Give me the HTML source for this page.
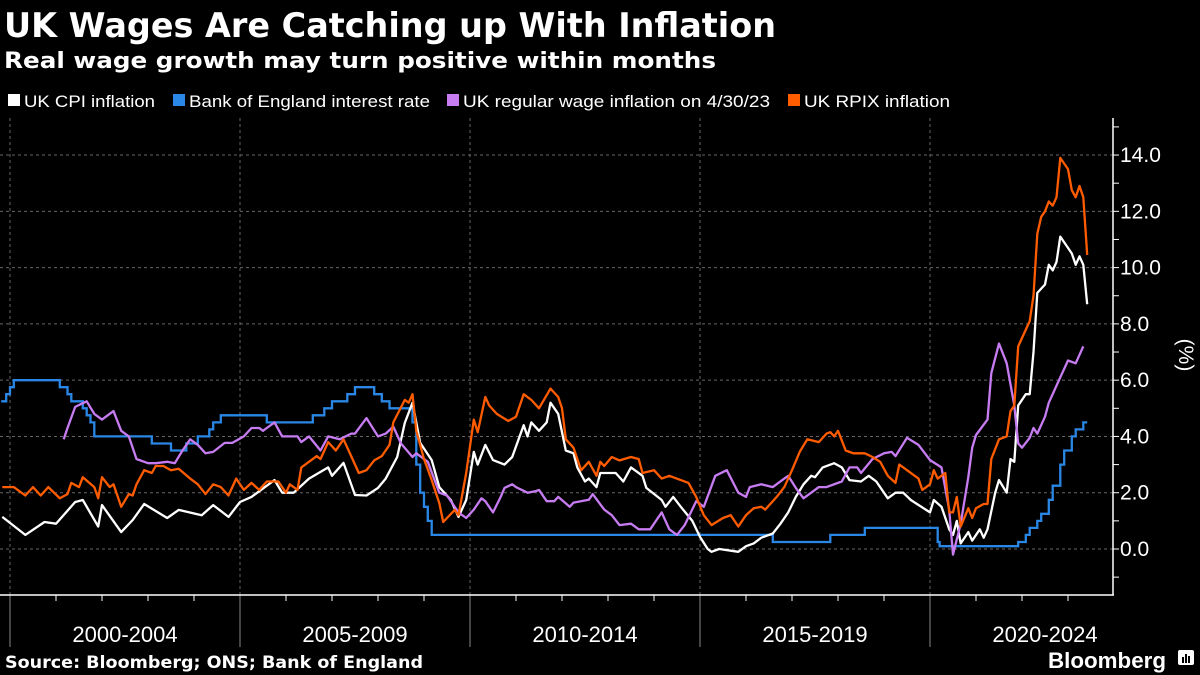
<!DOCTYPE html>
<html><head><meta charset="utf-8"><style>
html,body{margin:0;padding:0;background:#000;}
svg{display:block;font-family:"Liberation Sans",sans-serif;}
</style></head><body>
<svg id="chart" width="1200" height="675" viewBox="0 0 1200 675">
<rect width="1200" height="675" fill="#000"/>
<text x="4" y="37" fill="#fff" font-size="34" font-weight="bold" textLength="772" lengthAdjust="spacingAndGlyphs" style="font-family:'DejaVu Sans',sans-serif">UK Wages Are Catching up With Inflation</text>
<text x="4" y="68" fill="#fff" font-size="22" font-weight="bold" textLength="712" lengthAdjust="spacingAndGlyphs" style="font-family:'DejaVu Sans',sans-serif">Real wage growth may turn positive within months</text>
<g>
<g><rect x="8" y="94" width="12" height="12" fill="#fff"/><text x="24" y="107" fill="#fff" font-size="17" textLength="131" lengthAdjust="spacingAndGlyphs">UK CPI inflation</text></g>
<g><rect x="173" y="94" width="12" height="12" fill="#2a87e6"/><text x="189" y="107" fill="#fff" font-size="17" textLength="241" lengthAdjust="spacingAndGlyphs">Bank of England interest rate</text></g>
<g><rect x="447" y="94" width="12" height="12" fill="#c77cf2"/><text x="463" y="107" fill="#fff" font-size="17" textLength="307" lengthAdjust="spacingAndGlyphs">UK regular wage inflation on 4/30/23</text></g>
<g><rect x="788" y="94" width="12" height="12" fill="#ff5c00"/><text x="804" y="107" fill="#fff" font-size="17" textLength="146" lengthAdjust="spacingAndGlyphs">UK RPIX inflation</text></g>
</g>
<g id="grid"></g>
<g id="axes"></g>
<g id="series"></g>
<text x="5" y="668" fill="#fff" font-size="17" font-weight="bold" textLength="418" lengthAdjust="spacingAndGlyphs" style="font-family:'DejaVu Sans',sans-serif">Source: Bloomberg; ONS; Bank of England</text>
<text x="1048" y="668" fill="#fff" font-size="22" font-weight="bold" textLength="118" lengthAdjust="spacingAndGlyphs">Bloomberg</text>
<g><rect x="1178" y="650" width="16" height="15" rx="2" fill="#fff"/><rect x="1182" y="657" width="2" height="6" fill="#000"/><rect x="1185" y="654" width="2" height="9" fill="#000"/><rect x="1188" y="656" width="2" height="7" fill="#000"/></g>
</svg>
<script>
// months since Jan 2000
const cpiMonths=[-2,4,9,12,17,19,23,24,29,32,35,41,44,50,53,57,60,63,69,71,74,78,83,84,87,90,93,96,98,101,103,105,107,110,112,115,117,119,121,122,124,126,129,131,134,135,136,138,140,141,143,145,147,148,150,151,153,154,158,160,162,165,166,170,171,173,175,178,180,182,183,185,190,192,194,196,199,201,203,205,207,209,210,212,215,217,219,222,224,226,229,231,233,235,240,241,243,245,246,247,248,250,251,253,254,255,257,258,260,261,262,263,265,266,267,268,270,271,272,273,274,276,277,278,279,280,281];
const cpiValues=[1.14,0.5,0.96,0.9,1.67,1.74,0.8,1.56,0.6,1.03,1.6,1.1,1.39,1.2,1.56,1.14,1.67,1.85,2.45,2.0,2.0,2.5,2.9,2.6,3.06,1.92,1.9,2.17,2.5,3.27,4.48,5.2,3.77,3.16,2.2,1.74,1.14,1.74,3.45,3.0,3.7,3.16,3.0,3.27,4.4,4.0,4.5,4.2,4.5,5.2,4.8,3.5,3.4,2.9,2.4,2.5,2.2,2.7,2.7,2.4,2.9,2.6,2.17,1.74,1.5,1.85,1.5,1.0,0.43,0.0,-0.1,0.0,-0.1,0.1,0.2,0.4,0.55,0.9,1.3,1.85,2.3,2.6,2.55,2.9,3.05,2.9,2.45,2.4,2.6,2.4,1.8,2.0,2.0,1.74,1.3,1.74,1.5,0.7,0.5,1.0,0.2,0.6,0.3,0.7,0.4,0.7,2.0,2.45,2.0,3.2,3.1,5.1,5.5,5.5,7.0,9.1,9.4,10.1,9.9,10.2,11.1,10.7,10.5,10.1,10.4,10.1,8.7];
const rpixMonths=[-2,1,4,6,8,10,13,15,16,18,19,22,23,24,26,27,29,31,32,33,35,37,38,40,42,44,47,49,51,53,55,57,59,61,63,65,67,70,72,73,75,76,78,80,81,83,85,87,89,91,93,95,97,99,100,103,104,105,106,108,110,112,113,116,117,119,121,122,124,125,127,130,132,134,136,138,141,143,144,145,147,149,151,153,154,155,157,159,162,164,165,168,170,172,175,177,179,181,183,186,188,190,192,194,196,197,200,202,204,206,208,211,213,214,215,216,218,220,223,225,227,229,231,232,234,237,238,240,241,242,244,245,246,247,248,250,251,252,254,255,256,258,260,261,262,263,266,267,268,269,270,271,272,273,274,276,277,278,279,280,281];
const rpixValues=[2.2,2.2,1.9,2.2,1.9,2.2,1.8,1.95,2.35,2.2,2.55,2.2,1.8,2.55,2.2,2.3,1.5,1.95,1.9,2.3,2.8,2.7,2.95,2.95,2.8,2.85,2.5,2.3,1.95,2.3,2.2,1.9,2.5,2.1,2.35,2.1,2.4,2.4,2.0,2.3,2.1,2.9,3.1,3.3,3.2,3.8,3.5,3.9,3.3,2.7,2.8,3.15,3.3,3.7,4.5,5.3,5.2,5.5,4.2,3.2,2.45,1.63,0.96,1.39,1.2,2.7,4.6,4.15,5.4,5.1,4.8,4.55,4.7,5.5,5.3,5.0,5.7,5.4,5.0,3.9,3.6,2.8,3.1,2.6,3.1,2.95,3.27,3.15,3.27,3.2,2.7,2.8,2.5,2.6,2.45,2.35,1.85,1.2,0.85,1.1,1.2,0.8,1.2,1.45,1.5,1.4,1.85,2.2,2.8,3.45,3.9,3.8,4.1,4.15,4.0,4.2,3.5,3.4,3.4,3.27,3.1,2.6,2.35,3.0,2.8,2.5,2.1,2.3,2.8,2.5,2.7,1.3,1.3,1.85,0.8,1.45,1.1,1.45,1.6,1.6,3.2,3.9,4.0,4.9,5.1,7.2,8.1,9.0,11.2,11.8,12.0,12.35,12.2,12.5,13.9,13.5,12.75,12.5,12.9,12.5,10.45];
const wageMonths=[14,15,17,20,22,24,27,29,31,33,36,38,41,43,45,47,49,51,53,56,58,61,63,65,66,67,69,71,75,76,78,81,83,86,89,90,93,96,98,100,102,105,106,109,112,114,117,119,121,123,124,126,128,129,131,132,135,137,138,140,142,143,146,147,151,152,155,157,159,162,164,167,170,172,174,176,179,181,184,187,190,192,193,196,199,202,203,205,207,209,211,213,217,219,221,222,225,228,230,231,234,237,240,243,245,246,248,250,251,252,255,256,258,260,262,263,264,266,267,268,270,271,274,276,278,279,280];
const wageValues=[3.9,4.3,5.05,5.25,4.8,4.6,4.9,4.2,4.0,3.2,3.05,3.05,3.1,3.05,3.5,3.9,3.7,3.4,3.45,3.77,3.77,4.0,4.3,4.3,4.2,4.3,4.5,4.0,4.0,3.8,4.0,3.5,4.0,3.9,4.1,4.1,4.65,4.0,4.1,4.35,3.75,3.27,3.4,3.1,2.0,1.9,1.3,1.1,1.4,1.8,1.7,1.3,1.85,2.17,2.3,2.2,2.0,2.05,2.1,1.7,1.7,1.85,1.5,1.65,1.75,1.95,1.4,1.2,0.85,0.9,0.7,0.7,1.3,0.7,0.5,0.85,1.7,1.5,2.6,2.8,2.0,1.85,2.2,2.3,2.2,2.5,2.6,2.17,1.8,2.0,2.2,2.2,2.4,2.9,2.9,2.7,3.2,3.4,3.45,3.3,3.95,3.7,3.16,2.9,1.39,-0.2,0.9,2.55,3.6,4.05,4.6,6.25,7.3,6.6,5.1,3.75,3.6,3.95,4.3,4.1,4.7,5.2,6.1,6.7,6.6,6.9,7.2];
const rateMonths=[-2.3,-1,0,1,13,15,16,19,20,21,22,37,42,46,49,52,53,55,67,79,82,84,88,90,95,97,99,105,106,107,108,109,110,199,214,223,242,242.5,263,265,266,268,269,271,272,274,275,277,278,280,281];
const rateValues=[5.25,5.5,5.75,6.0,5.75,5.5,5.25,5.0,4.75,4.5,4.0,3.75,3.5,3.75,4.0,4.25,4.5,4.75,4.5,4.75,5.0,5.25,5.5,5.75,5.5,5.25,5.0,4.5,3.0,2.0,1.5,1.0,0.5,0.25,0.5,0.75,0.25,0.1,0.25,0.5,0.75,1.0,1.25,1.75,2.25,3.0,3.5,4.0,4.25,4.5,4.5];
const yTickValues=[0,2,4,6,8,10,12,14];
const yTickLabels=["0.0","2.0","4.0","6.0","8.0","10.0","12.0","14.0"];
const periodLabels=["2000-2004","2005-2009","2010-2014","2015-2019","2020-2024"];

const NS="http://www.w3.org/2000/svg";
const X0=10, PXM=46/12, Y0=549, PXV=28.14, RIGHT=1113, BOTTOM=595, TOP=118;
function xs(m){return X0+m*PXM;}
function ys(v){return Y0-v*PXV;}
function mk(tag,attrs,parent){const e=document.createElementNS(NS,tag);for(const k in attrs)e.setAttribute(k,attrs[k]);parent.appendChild(e);return e;}
const grid=document.getElementById('grid'), axes=document.getElementById('axes'), ser=document.getElementById('series');

yTickValues.forEach((v,i)=>{
  const gl=mk('line',{x1:0,x2:RIGHT,y1:ys(v),y2:ys(v),stroke:'#666','stroke-width':1,'stroke-dasharray':'3,3'},grid);
  
  
  const t=mk('text',{x:1120,y:ys(v)+7,fill:'#fff','font-size':21},axes);
  t.textContent=yTickLabels[i];
  
  
});
for(let v=-1;v<=15;v++){
  if(ys(v)<TOP||ys(v)>BOTTOM)continue;
  const tk=mk('line',{x1:RIGHT,x2:RIGHT+6,y1:ys(v),y2:ys(v),stroke:'#fff','stroke-width':1},axes);
  
  
}
periodLabels.forEach((p,i)=>{
  const m0=i*60;
  const gl=mk('line',{x1:xs(m0),x2:xs(m0),y1:TOP,y2:BOTTOM,stroke:'#666','stroke-width':1,'stroke-dasharray':'3,3'},grid);
  
  
  const sep=mk('line',{x1:xs(m0),x2:xs(m0),y1:BOTTOM,y2:647,stroke:'#888','stroke-width':1},axes);
  
  
  const t=mk('text',{x:xs(m0+30),y:642,fill:'#fff','font-size':22,'text-anchor':'middle'},axes);
  t.textContent=p;
  
  
});
for(let y=1;y<24;y++){
  if(y%5===0)continue;
  const tk=mk('line',{x1:xs(y*12),x2:xs(y*12),y1:BOTTOM,y2:BOTTOM+6,stroke:'#fff','stroke-width':1},axes);
  
  
}
const xa=mk('line',{x1:0,x2:RIGHT+1,y1:BOTTOM,y2:BOTTOM,stroke:'#fff','stroke-width':1.5},axes);


const ya=mk('line',{x1:RIGHT,x2:RIGHT,y1:TOP,y2:BOTTOM,stroke:'#fff','stroke-width':1.5},axes);


const yt=mk('text',{x:0,y:0,fill:'#fff','font-size':21,'text-anchor':'middle',transform:'translate(1179,355) rotate(90)'},axes);
yt.textContent='(%)';



function line(ms,vs){
  return ms.map((m,i)=>(i?'L':'M')+xs(m).toFixed(1)+','+ys(vs[i]).toFixed(1)).join('');
}
function stepLine(ms,vs){
  let d='M'+xs(ms[0]).toFixed(1)+','+ys(vs[0]).toFixed(1);
  for(let i=1;i<ms.length;i++){d+='H'+xs(ms[i]).toFixed(1)+'V'+ys(vs[i]).toFixed(1);}
  return d;
}
const pr=mk('path',{d:stepLine(rateMonths,rateValues),fill:'none',stroke:'#2a87e6','stroke-width':2.3},ser);


const pc=mk('path',{d:line(cpiMonths,cpiValues),fill:'none',stroke:'#fff','stroke-width':2.3,'stroke-linejoin':'round'},ser);


const pw=mk('path',{d:line(wageMonths,wageValues),fill:'none',stroke:'#c77cf2','stroke-width':2.3,'stroke-linejoin':'round'},ser);


const po=mk('path',{d:line(rpixMonths,rpixValues),fill:'none',stroke:'#ff5c00','stroke-width':2.3,'stroke-linejoin':'round'},ser);


</script>
</body></html>
